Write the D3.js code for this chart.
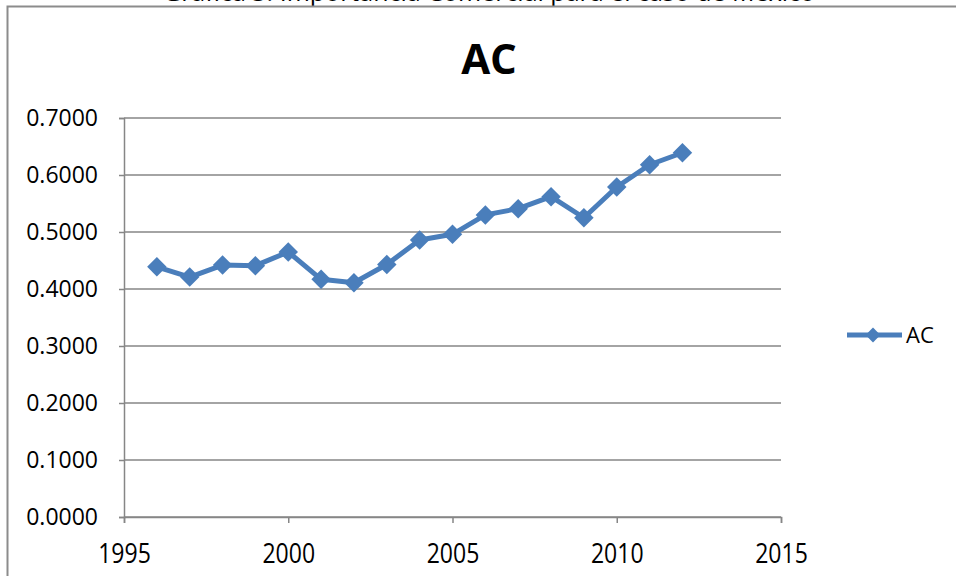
<!DOCTYPE html>
<html>
<head>
<meta charset="utf-8">
<script src="https://cdn.jsdelivr.net/npm/d3@7"></script>
<style>
  html, body { margin: 0; padding: 0; background: #fff; }
  svg { display: block; }
  text { font-family: "Open Sans", "Noto Sans", sans-serif; fill: #000; }
</style>
</head>
<body>
<svg id="chart" width="956" height="576"></svg>
<script>
// Series: AC by year
const years = [1996, 1997, 1998, 1999, 2000, 2001, 2002, 2003, 2004, 2005, 2006, 2007, 2008, 2009, 2010, 2011, 2012];
const acValues = [0.439, 0.421, 0.442, 0.441, 0.465, 0.417, 0.411, 0.443, 0.486, 0.496, 0.530, 0.541, 0.562, 0.525, 0.579, 0.618, 0.639];
const xTicks = [1995, 2000, 2005, 2010, 2015];
const yTicks = [0, 0.1, 0.2, 0.3, 0.4, 0.5, 0.6, 0.7];
const seriesName = "AC";
const chartTitle = "AC";
const pageCaption = "Gráfica 3. Importancia Comercial para el caso de México";

const svg = d3.select("#chart");
const blue = "#4a7ebb";
const grid = "#868686";

// Caption running above the chart frame
svg.append("text")
  .attr("x", 489).attr("y", 1)
  .attr("text-anchor", "middle")
  .style("font-size", "25px")
  .text(pageCaption);

// Chart frame
svg.append("rect")
  .attr("x", 0).attr("y", 6.5).attr("width", 956).attr("height", 570)
  .attr("fill", "#fff");
svg.append("path")
  .attr("d", "M7.5,576 L7.5,6.5 L956,6.5")
  .attr("fill", "none").attr("stroke", "#8c8c8c").attr("stroke-width", 2);

const x = d3.scaleLinear().domain([1995, 2015]).range([124, 781]);
const y = d3.scaleLinear().domain([0, 0.7]).range([517, 118]);

// Horizontal gridlines
svg.append("g")
  .selectAll("line")
  .data(yTicks)
  .join("line")
  .attr("x1", x(1995)).attr("x2", x(2015))
  .attr("y1", d => y(d)).attr("y2", d => y(d))
  .attr("stroke", grid).attr("stroke-width", 1.5);

// Y axis
const yAxis = svg.append("g")
  .attr("transform", `translate(${x(1995)},0)`)
  .call(d3.axisLeft(y).tickValues(yTicks).tickFormat(d3.format(".4f")).tickSize(5).tickPadding(21));
yAxis.select(".domain").attr("stroke", grid).attr("stroke-width", 1.5);
yAxis.selectAll(".tick line").attr("stroke", grid).attr("stroke-width", 1.5);
yAxis.selectAll(".tick text").style("font-size", "23px").style("font-family", "'Open Sans', sans-serif").attr("fill", "#000");

// X axis
const xAxis = svg.append("g")
  .attr("transform", `translate(0,${y(0)})`)
  .call(d3.axisBottom(x).tickValues(xTicks).tickFormat(d3.format("d")).tickSize(6).tickPadding(0));
xAxis.select(".domain").attr("stroke", grid).attr("stroke-width", 1.5);
xAxis.selectAll(".tick line").attr("stroke", grid).attr("stroke-width", 1.5);
xAxis.selectAll(".tick text")
  .style("font-size", "24px").style("font-family", "'Open Sans', sans-serif").attr("fill", "#000")
  .attr("dy", null).attr("y", 0)
  .attr("transform", "translate(0,46) scale(0.96,1.12)");

// Title
svg.append("text")
  .attr("x", 489).attr("y", 74)
  .attr("text-anchor", "middle")
  .style("font-size", "42px").style("font-weight", "bold")
  .text(chartTitle);

// Line
const data = years.map((yr, i) => ({ yr, v: acValues[i] }));
svg.append("path")
  .datum(data)
  .attr("fill", "none").attr("stroke", blue).attr("stroke-width", 5)
  .attr("stroke-linejoin", "round")
  .attr("d", d3.line().x(d => x(d.yr)).y(d => y(d.v)));

// Diamond markers
const diamond = d3.symbol().type(d3.symbolSquare).size(190);
svg.append("g")
  .selectAll("path")
  .data(data)
  .join("path")
  .attr("d", diamond)
  .attr("transform", d => `translate(${x(d.yr)},${y(d.v)}) rotate(45)`)
  .attr("fill", blue);

// Legend
const lg = svg.append("g").attr("transform", "translate(847,335)");
lg.append("line").attr("x1", 0).attr("x2", 55).attr("y1", 0).attr("y2", 0)
  .attr("stroke", blue).attr("stroke-width", 5);
lg.append("path").attr("d", d3.symbol().type(d3.symbolSquare).size(110))
  .attr("transform", "translate(26,0) rotate(45)").attr("fill", blue);
lg.append("text").attr("x", 59).attr("y", 8).style("font-size", "22px").text(seriesName);
</script>
</body>
</html>
